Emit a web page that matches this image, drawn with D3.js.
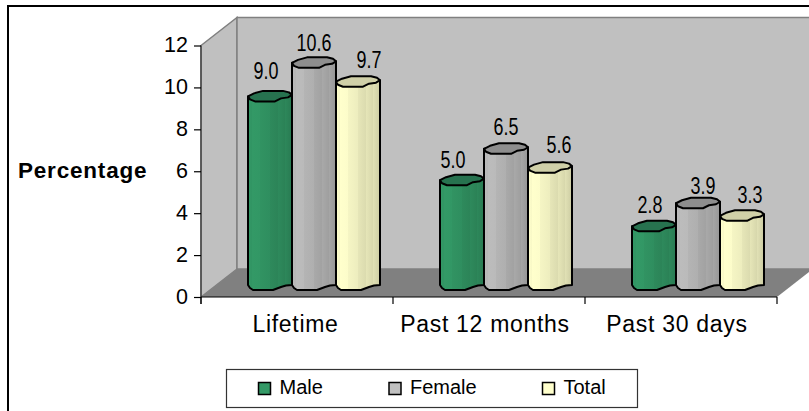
<!DOCTYPE html>
<html><head><meta charset="utf-8">
<script src="https://cdn.jsdelivr.net/npm/d3@7"></script>
<style>html,body{margin:0;padding:0;background:#fff}svg{display:block}text{font-family:"Liberation Sans",Arial,sans-serif;fill:#000}</style>
</head><body><svg id="c" width="809" height="411"></svg>
<script>
const categories=["Lifetime","Past 12 months","Past 30 days"];
const seriesNames=["Male","Female","Total"];
const male=[9.0,5.0,2.8];
const female=[10.6,6.5,3.9];
const total=[9.7,5.6,3.3];
const yTicks=[0,2,4,6,8,10,12];
const seriesValues=[male,female,total];
const front=["#339966","#bcbcbc","#ffffcc"];
const tops=["#27724f","#8e8e8e","#d0d0a8"];
const legendFill=["#339966","#c0c0c0","#ffffcc"];
const svg=d3.select("#c");
const x0=201,x1=777,yB=297,yT=45.5,dx=36,dy=28;
const x=d3.scaleBand().domain(categories).range([x0,x1]);
const y=d3.scaleLinear().domain([0,12]).range([yB,yT]);
// hand-placed data labels in the original: offset from the default spot, per series then category
const nudgeX=[[-4,-9,-4],[0,0,5],[11,9,8]];
const nudgeY=[[-3,2,1],[2,0,5],[0,-1,1]];
const catNudge=[-1.5,-4,-4];
const defs=svg.append("defs");
const stops=[[0,1],[.1,.97],[.1,1.0],[.28,.99],[.28,.96],[.5,.93],[.5,.9],[.68,.86],[.68,.9],[.85,.84],[.85,.88],[1,.8]];
front.forEach((c,i)=>{const g=defs.append("linearGradient").attr("id","g"+i);
 stops.forEach(([s,m])=>{const col=d3.rgb(c);
  g.append("stop").attr("offset",s).attr("stop-color",d3.rgb(Math.min(255,col.r*m),Math.min(255,col.g*m),Math.min(255,col.b*m)).formatHex());});});
// border
svg.append("rect").attr("x",8).attr("y",6).attr("width",820).attr("height",420).attr("fill","#fff").attr("stroke","#000").attr("stroke-width",2);
// walls
const P=a=>a.map(p=>p.join(",")).join(" ");
svg.append("polygon").attr("points",P([[x0,yT],[x0+dx,yT-dy],[x0+dx,yB-dy],[x0,yB]])).attr("fill","#c0c0c0").attr("stroke","#808080").attr("stroke-width",1.5);
svg.append("polygon").attr("points",P([[x0+dx,yT-dy],[x1+dx,yT-dy],[x1+dx,yB-dy],[x0+dx,yB-dy]])).attr("fill","#c0c0c0").attr("stroke","#808080").attr("stroke-width",1.5);
svg.append("polygon").attr("points",P([[x0,yB],[x0+dx,yB-dy],[x1+dx,yB-dy],[x1,yB]])).attr("fill","#808080");
// axes
const ax=svg.append("g").attr("transform",`translate(${x0},0)`).call(d3.axisLeft(y).tickValues(yTicks).tickSize(7).tickPadding(6).tickFormat(d3.format("d")));
ax.selectAll("path,line").attr("stroke","#000").attr("stroke-width",1.2);
ax.selectAll("text").attr("font-size",21.5).attr("dy","0.3em");
ax.select("path").attr("d",`M0,${yT}V${yB+7}`).attr("stroke","#333");
const bx=svg.append("g").attr("transform",`translate(0,${yB})`).call(d3.axisBottom(x).tickSize(0).tickPadding(16));
bx.select("path").attr("d",`M${x0},0H${x1}`).attr("stroke","#000").attr("stroke-width",1.2);
bx.selectAll("text").attr("font-size",23).attr("letter-spacing",.7).attr("dx",(d,i)=>catNudge[i]).attr("dy",0).attr("y",35);
svg.append("g").selectAll("line").data(d3.range(categories.length+1)).join("line")
 .attr("x1",i=>x0+i*x.step()).attr("x2",i=>x0+i*x.step()).attr("y1",yB).attr("y2",yB+7).attr("stroke","#000").attr("stroke-width",1.2);
svg.append("text").attr("x",18).attr("y",178).attr("font-size",22.5).attr("letter-spacing",.8).attr("font-weight","bold").text("Percentage");
// bars
const barW=44,gOff=47,baseUp=12,botY=290;
function topShape(l,cy){return [[0,0],[2,3],[7,5],[27,5],[33,2],[40,1],[44,-1.5],[41,-4],[35,-5.5],[15,-5.5],[6,-3]].map(p=>[l+p[0],cy+p[1]]);}
function body(l,yt){return [[l,yt],[l,botY-5],[l+2,botY-2],[l+5,botY],[l+25,botY],[l+33,botY-3],[l+38,botY-4.5],[l+44,botY-5],[l+44,yt-1.5]];}
categories.forEach((cat,ci)=>{
 seriesNames.forEach((s,si)=>{
  const v=seriesValues[si][ci];
  const l=x(cat)+gOff+si*barW;
  const yt=y(v)-baseUp;
  const g=svg.append("g");
  g.append("polygon").attr("points",P(body(l,yt))).attr("fill",`url(#g${si})`).attr("stroke","#000").attr("stroke-width",2).attr("stroke-linejoin","round");
  g.append("polygon").attr("points",P(topShape(l,yt))).attr("fill",tops[si]).attr("stroke","#000").attr("stroke-width",2).attr("stroke-linejoin","round");
  g.append("text").attr("transform",`translate(${l+22+nudgeX[si][ci]},${yt-14+nudgeY[si][ci]}) scale(.78,1)`).attr("text-anchor","middle").attr("font-size",23).text(v.toFixed(1));
 });
});
// legend
svg.append("rect").attr("x",226.5).attr("y",369.5).attr("width",411).attr("height",38).attr("fill","#fff").attr("stroke","#333").attr("stroke-width",1.2);
const lx=[258.5,389,542.5];
seriesNames.forEach((s,i)=>{
 svg.append("rect").attr("x",lx[i]).attr("y",382.5).attr("width",12).attr("height",12).attr("fill",legendFill[i]).attr("stroke","#000").attr("stroke-width",1.5);
 svg.append("text").attr("x",lx[i]+21).attr("y",394).attr("font-size",20).text(s);
});
</script></body></html>
